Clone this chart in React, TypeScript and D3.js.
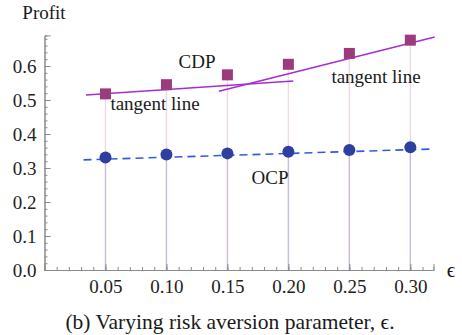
import React, { useRef, useEffect } from "react";
import { select, scaleLinear, axisBottom, axisLeft, line, range, format } from "d3";

// risk aversion parameter values
const eps = [0.05, 0.1, 0.15, 0.2, 0.25, 0.3];
const cdp = [0.518, 0.545, 0.574, 0.605, 0.637, 0.676];
const ocp = [0.331, 0.34, 0.343, 0.348, 0.353, 0.361];

// tangent / fit lines, end points
const tangent1Eps = [0.034, 0.204];
const tangent1Val = [0.515, 0.556];
const tangent2Eps = [0.143, 0.32];
const tangent2Val = [0.526, 0.685];
const ocpFitEps = [0.032, 0.319];
const ocpFitVal = [0.324, 0.356];

const yTicks = [0, 0.1, 0.2, 0.3, 0.4, 0.5, 0.6];
const xTicks = [0.05, 0.1, 0.15, 0.2, 0.25, 0.3];

const FONT = "'Liberation Serif', 'DejaVu Serif', serif";

function App() {
  const svgRef = useRef<SVGSVGElement>(null);

  useEffect(() => {
    const svg = select(svgRef.current);
    svg.selectAll("*").remove();

    const x = scaleLinear().domain([0, 0.319]).range([44.5, 433.5]);
    const y = scaleLinear().domain([0, 0.69]).range([270, 35.4]);

    // drop lines to the axis
    const g = svg.append("g");
    g.selectAll(".cdpDrop")
      .data(eps)
      .join("line")
      .attr("x1", (d) => x(d))
      .attr("x2", (d) => x(d))
      .attr("y1", (d, i) => y(cdp[i]))
      .attr("y2", y(0))
      .attr("stroke", "rgba(160,60,130,0.2)")
      .attr("stroke-width", 1.4);
    g.selectAll(".ocpDrop")
      .data(eps)
      .join("line")
      .attr("x1", (d) => x(d))
      .attr("x2", (d) => x(d))
      .attr("y1", (d, i) => y(ocp[i]))
      .attr("y2", y(0))
      .attr("stroke", "rgba(60,60,170,0.18)")
      .attr("stroke-width", 1.4);

    // axes
    const minorY = axisLeft(y)
      .tickValues(range(0, 0.69, 0.02))
      .tickSize(-3)
      .tickFormat(() => "");
    const minorX = axisBottom(x)
      .tickValues(range(0.01, 0.32, 0.01))
      .tickSize(-3)
      .tickFormat(() => "");
    const majorY = axisLeft(y).tickValues(yTicks).tickSize(-6).tickPadding(8).tickFormat(format(".1f"));
    const majorX = axisBottom(x).tickValues(xTicks).tickSize(-6).tickPadding(10).tickFormat(format(".2f"));

    const yAx = svg.append("g").attr("transform", `translate(${x(0)},0)`);
    yAx.call(minorY);
    yAx.append("g").call(majorY);
    const xAx = svg.append("g").attr("transform", `translate(0,${y(0)})`);
    xAx.call(minorX);
    xAx.append("g").call(majorX);

    svg.selectAll(".domain").attr("stroke", "#8a8a8a").attr("stroke-width", 1);
    svg.selectAll(".tick line").attr("stroke", "#8a8a8a");
    svg
      .selectAll(".tick text")
      .attr("font-family", FONT)
      .attr("font-size", 19)
      .attr("fill", "#222");

    // lines
    const ln = line<number>()
      .x((d) => x(d[0]))
      .y((d) => y(d[1]));

    svg
      .append("path")
      .attr("d", ln(ocpFitEps.map((e, i) => [e, ocpFitVal[i]])))
      .attr("fill", "none")
      .attr("stroke", "#2f5ce0")
      .attr("stroke-width", 1.6)
      .attr("stroke-dasharray", "8,5");

    [
      [tangent1Eps, tangent1Val],
      [tangent2Eps, tangent2Val],
    ].forEach(([es, vs]) => {
      svg
        .append("path")
        .attr("d", ln(es.map((e, i) => [e, vs[i]])))
        .attr("fill", "none")
        .attr("stroke", "#a32fd0")
        .attr("stroke-width", 1.5);
    });

    // points
    svg
      .selectAll(".ocpDot")
      .data(eps)
      .join("circle")
      .attr("class", "ocpDot")
      .attr("cx", (d) => x(d))
      .attr("cy", (d, i) => y(ocp[i]))
      .attr("r", 6)
      .attr("fill", "#2f3f9f");

    svg
      .selectAll(".cdpSq")
      .data(eps)
      .join("rect")
      .attr("class", "cdpSq")
      .attr("x", (d) => x(d) - 5.5)
      .attr("y", (d, i) => y(cdp[i]) - 5.5)
      .attr("width", 11)
      .attr("height", 11)
      .attr("fill", "#9b3a7d");

    // labels
    const labels = [
      { t: "Profit", x: 44, y: 19, s: 19 },
      { t: "CDP", x: 197, y: 68, s: 19 },
      { t: "tangent line", x: 155, y: 110, s: 19 },
      { t: "tangent line", x: 376, y: 83, s: 19 },
      { t: "OCP", x: 270, y: 184, s: 19 },
      { t: "ϵ", x: 451, y: 277, s: 21 },
      { t: "(b) Varying risk aversion parameter, ϵ.", x: 230, y: 329, s: 21.5 },
    ];
    svg
      .selectAll(".lbl")
      .data(labels)
      .join("text")
      .attr("class", "lbl")
      .attr("x", (d) => d.x)
      .attr("y", (d) => d.y)
      .attr("text-anchor", "middle")
      .attr("font-family", FONT)
      .attr("font-size", (d) => d.s)
      .attr("fill", "#1a1a1a")
      .text((d) => d.t);
  }, []);

  return (
    <svg
      ref={svgRef}
      width={462}
      height={335}
      style={{ position: "absolute", left: 0, top: 0, background: "#fff" }}
    />
  );
}

export default App;
